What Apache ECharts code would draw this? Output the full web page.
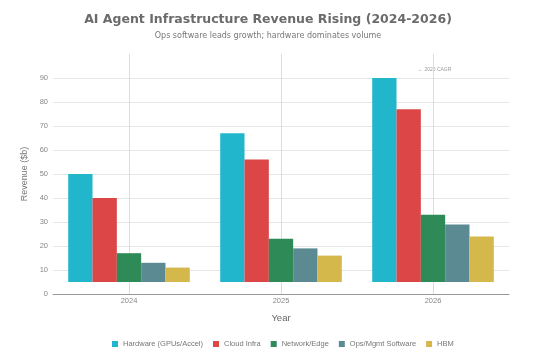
<!DOCTYPE html>
<html>
<head>
<meta charset="utf-8">
<script src="https://cdn.jsdelivr.net/npm/echarts@6/dist/echarts.min.js"></script>
<style>html,body{margin:0;padding:0;background:#fff}#c{width:536px;height:357px}</style>
</head>
<body>
<div id="c"></div>
<script>
var years = ['2024', '2025', '2026'];
var seriesNames = ['Hardware (GPUs/Accel)', 'Cloud Infra', 'Network/Edge', 'Ops/Mgmt Software', 'HBM'];
var hardware = [50, 67, 90];
var cloudInfra = [40, 56, 77];
var networkEdge = [17, 23, 33];
var opsMgmt = [13, 19, 29];
var hbm = [11, 16, 24];
var barBase = 5;
var yTicks = [0, 10, 20, 30, 40, 50, 60, 70, 80, 90];
var colors = ['#22b6cc', '#dc4646', '#2e8b57', '#5b8a93', '#d5b84c'];

var values = [hardware, cloudInfra, networkEdge, opsMgmt, hbm];
var series = [];
values.forEach(function (vals, i) {
  series.push({
    type: 'bar', stack: 's' + i, silent: true,
    data: vals.map(function () { return barBase; }),
    itemStyle: { color: 'rgba(0,0,0,0)' },
    barGap: '0%', barCategoryGap: '20%'
  });
  series.push({
    name: seriesNames[i], type: 'bar', stack: 's' + i,
    data: vals.map(function (v) { return v - barBase; }),
    itemStyle: { color: colors[i] },
    barGap: '0%', barCategoryGap: '20%'
  });
});

var splitColors = yTicks.map(function () { return '#e6e6e6'; });
splitColors.push('rgba(0,0,0,0)');

var chart = echarts.init(document.getElementById('c'), null, { renderer: 'canvas' });
chart.setOption({
  backgroundColor: '#fff',
  animation: false,
  color: colors,
  title: {
    text: 'AI Agent Infrastructure Revenue Rising (2024-2026)',
    subtext: 'Ops software leads growth; hardware dominates volume',
    left: 'center', top: 8, itemGap: 6,
    textStyle: { fontFamily: 'DejaVu Sans', fontWeight: 'bold', fontSize: 12.5, color: '#6b6b6b' },
    subtextStyle: { fontFamily: 'DejaVu Sans', fontSize: 8, color: '#777' }
  },
  grid: { left: 53, right: 27, top: 54, bottom: 63, containLabel: false },
  legend: {
    data: seriesNames, left: 107, top: 335, icon: 'rect', itemWidth: 6, itemHeight: 6, itemGap: 10,
    textStyle: { fontFamily: 'Liberation Sans', fontSize: 7.5, color: '#777' }
  },
  xAxis: {
    type: 'category', data: years,
    name: 'Year', nameLocation: 'middle', nameGap: 19,
    nameTextStyle: { fontFamily: 'Liberation Sans', fontSize: 9.5, color: '#666' },
    axisLine: { lineStyle: { color: '#999', width: 1 } },
    axisTick: { show: false, alignWithLabel: true },
    axisLabel: { fontFamily: 'Liberation Sans', fontSize: 7.5, color: '#888', margin: 3 },
    splitLine: { show: true, alignWithLabel: true, lineStyle: { color: '#dcdcdc' } }
  },
  yAxis: {
    type: 'value', min: 0, max: 100, interval: 10,
    name: 'Revenue ($b)', nameLocation: 'middle', nameGap: 21,
    nameTextStyle: { fontFamily: 'Liberation Sans', fontSize: 9, color: '#777' },
    axisLine: { show: false }, axisTick: { show: false },
    axisLabel: { fontFamily: 'Liberation Sans', fontSize: 7.5, color: '#888', margin: 5, showMaxLabel: false },
    splitLine: { show: true, lineStyle: { color: splitColors } }
  },
  graphic: [{
    type: 'text', left: 418, top: 67,
    style: { text: '\u2190 2026 CAGR', font: '5px "Liberation Sans"', fill: '#999' }
  }],
  series: series
});
</script>
</body>
</html>
